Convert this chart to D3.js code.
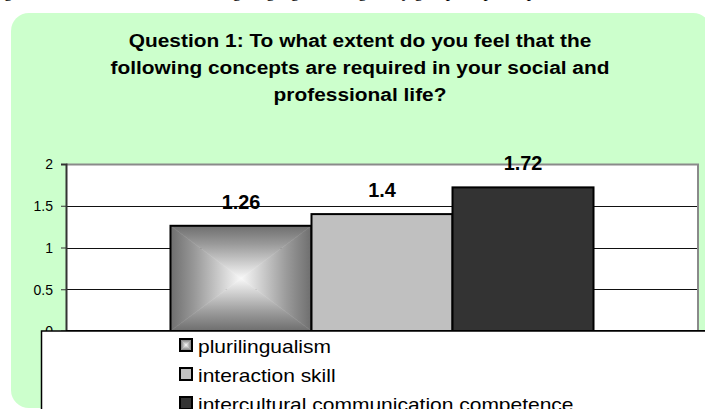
<!DOCTYPE html>
<html>
<head>
<meta charset="utf-8">
<script src="https://cdn.jsdelivr.net/npm/d3@7"></script>
<style>
  body { margin: 0; background: #ffffff; }
  svg { display: block; }
</style>
</head>
<body>
<div id="canvas"></div>
<script>
"use strict"

/* Chart data */
let categories = ["Question 1"];
let series = ["plurilingualism", "interaction skill", "intercultural communication competence"];
let values = [1.26, 1.4, 1.72];
let yTicks = [0, 0.5, 1, 1.5, 2];
let titleLines = [
    "Question 1: To what extent do you feel that the",
    "following concepts are required in your social and",
    "professional life?"
];

/* Drawing config */
let svgWidth = 705;
let svgHeight = 409;
let plotLeft = 66;
let plotRight = 698;
let plotTop = 164;
let plotBottom = 331;
let stretch = 1.13; // the picture looks a bit wider than tall

let svg = d3.select("#canvas")
    .append("svg")
    .attr("width", svgWidth)
    .attr("height", svgHeight);

let defs = svg.append("defs");

/* gradients for the "from centre" rectangle fill, one per triangle side */
let gradDirs = {
    top: [0, 0, 0, 1],
    bottom: [0, 1, 0, 0],
    left: [0, 0, 1, 0],
    right: [1, 0, 0, 0]
};
Object.keys(gradDirs).forEach(function(k) {
    let d = gradDirs[k];
    let g = defs.append("linearGradient")
        .attr("id", "g-" + k)
        .attr("x1", d[0]).attr("y1", d[1])
        .attr("x2", d[2]).attr("y2", d[3]);
    g.append("stop").attr("offset", 0).attr("stop-color", "#6e6e6e");
    g.append("stop").attr("offset", 0.35).attr("stop-color", "#9a9a9a");
    g.append("stop").attr("offset", 1).attr("stop-color", "#f8f8f8");
});

function rectGradient(sel, x, y, w, h) {
    let cx = x + w / 2, cy = y + h / 2;
    let tris = {
        top: [[x, y], [x + w, y], [cx, cy]],
        bottom: [[x, y + h], [x + w, y + h], [cx, cy]],
        left: [[x, y], [x, y + h], [cx, cy]],
        right: [[x + w, y], [x + w, y + h], [cx, cy]]
    };
    Object.keys(tris).forEach(function(k) {
        sel.append("polygon")
            .attr("points", tris[k].map(p => p.join(",")).join(" "))
            .attr("fill", "url(#g-" + k + ")")
            .attr("stroke", "url(#g-" + k + ")")
            .attr("stroke-width", 0.5);
    });
}

let fills = ["gradient", "#c0c0c0", "#333333"];

/* text that is slightly stretched sideways */
function wideText(parent, x, y, str, size, weight, anchor, sx) {
    return parent.append("text")
        .attr("transform", "translate(" + x + "," + y + ") scale(" + sx + ",1)")
        .attr("text-anchor", anchor)
        .style("font-family", "'Liberation Sans', Arial, sans-serif")
        .style("font-size", size + "px")
        .style("font-weight", weight)
        .attr("fill", "#000")
        .text(str);
}

/* bit of document text above the chart, cut off */
svg.append("text")
    .attr("x", 4)
    .attr("y", -3)
    .style("font-family", "'Liberation Serif', 'Times New Roman', serif")
    .style("font-size", "17px")
    .text("gure 1: Students' views concerning language learning in my groups of participants");

/* green panel */
svg.append("rect")
    .attr("x", 11)
    .attr("y", 13)
    .attr("width", 700)
    .attr("height", 395)
    .attr("rx", 18)
    .attr("fill", "#ccffcc");

/* title */
titleLines.forEach(function(t, i) {
    wideText(svg, 360, 46.5 + i * 27, t, 18.5, "bold", "middle", stretch);
});

/* scales */
let x0 = d3.scaleBand()
    .domain(categories)
    .range([plotLeft, plotRight])
    .paddingOuter(0.247);

let x1 = d3.scaleBand()
    .domain(series)
    .range([0, x0.bandwidth()]);

let yScale = d3.scaleLinear()
    .domain([0, 2])
    .range([plotBottom, plotTop]);

/* plot area */
svg.append("rect")
    .attr("x", plotLeft)
    .attr("y", plotTop)
    .attr("width", plotRight - plotLeft)
    .attr("height", plotBottom - plotTop)
    .attr("fill", "#fff");

/* grid lines */
svg.selectAll("line.grid")
    .data(yTicks.filter(v => v > 0 && v < 2))
    .join("line")
    .attr("class", "grid")
    .attr("x1", plotLeft)
    .attr("x2", plotRight)
    .attr("y1", d => Math.round(yScale(d)) + 0.5)
    .attr("y2", d => Math.round(yScale(d)) + 0.5)
    .attr("stroke", "#111")
    .attr("stroke-width", 1);

/* grey top and right border */
svg.append("path")
    .attr("d", "M" + plotLeft + "," + (plotTop + 0.5) + "H" + plotRight + "V" + plotBottom)
    .attr("fill", "none")
    .attr("stroke", "#8a8a8a")
    .attr("stroke-width", 2);

/* y axis */
let yAxis = d3.axisLeft(yScale)
    .tickValues(yTicks)
    .tickSize(5)
    .tickFormat(d3.format(""));

let yAxisG = svg.append("g")
    .attr("transform", "translate(" + plotLeft + ",0)")
    .call(yAxis);

yAxisG.select(".domain").attr("stroke", "#333").attr("stroke-width", 2);
yAxisG.selectAll(".tick line").attr("stroke", "#333");
yAxisG.selectAll(".tick text")
    .attr("x", -13)
    .attr("dy", "0.35em")
    .attr("fill", "#000")
    .style("font-family", "'Liberation Sans', Arial, sans-serif")
    .style("font-size", "14px");

/* bars */
let barG = svg.append("g");
series.forEach(function(s, i) {
    let bx = x0(categories[0]) + x1(s);
    let by = yScale(values[i]);
    let bw = x1.bandwidth();
    let bh = yScale(0) - by;
    if (fills[i] === "gradient") {
        rectGradient(barG, bx, by, bw, bh);
        barG.append("rect")
            .attr("x", bx).attr("y", by)
            .attr("width", bw).attr("height", bh)
            .attr("fill", "none")
            .attr("stroke", "#000")
            .attr("stroke-width", 2);
    } else {
        barG.append("rect")
            .attr("x", bx).attr("y", by)
            .attr("width", bw).attr("height", bh)
            .attr("fill", fills[i])
            .attr("stroke", "#000")
            .attr("stroke-width", 2);
    }
});

/* value labels */
series.forEach(function(s, i) {
    wideText(svg, x0(categories[0]) + x1(s) + x1.bandwidth() / 2,
        yScale(values[i]) - 17, String(values[i]), 19.5, "bold", "middle", 1.02);
});

/* x axis line */
svg.append("line")
    .attr("x1", plotLeft)
    .attr("x2", svgWidth)
    .attr("y1", plotBottom)
    .attr("y2", plotBottom)
    .attr("stroke", "#000")
    .attr("stroke-width", 2);

/* legend box, runs off the page */
let legX = 41.5;
let legY = 331;
svg.append("rect")
    .attr("x", legX)
    .attr("y", legY)
    .attr("width", 700)
    .attr("height", 200)
    .attr("fill", "#fff")
    .attr("stroke", "#000")
    .attr("stroke-width", 1.5);

let keyX = 180;
let keyY = 345;
let keyStep = 29;
let keySize = 12;
series.forEach(function(s, i) {
    let cy = keyY + i * keyStep;
    let sx = keyX, sy = cy - keySize / 2;
    if (fills[i] === "gradient") {
        rectGradient(svg, sx, sy, keySize, keySize);
        svg.append("rect")
            .attr("x", sx).attr("y", sy)
            .attr("width", keySize).attr("height", keySize)
            .attr("fill", "none")
            .attr("stroke", "#000")
            .attr("stroke-width", 2);
    } else {
        svg.append("rect")
            .attr("x", sx).attr("y", sy)
            .attr("width", keySize).attr("height", keySize)
            .attr("fill", fills[i])
            .attr("stroke", "#000")
            .attr("stroke-width", 2);
    }
    wideText(svg, 198, cy + 7.5, s, 17.5, "normal", "start", 1.2);
});
</script>
</body>
</html>
